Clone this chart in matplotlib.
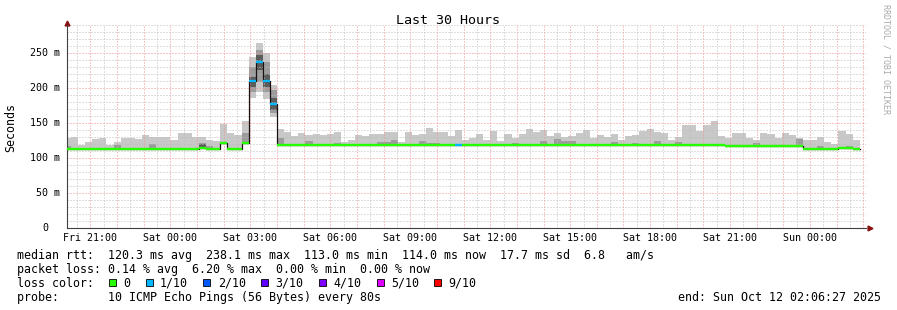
import numpy as np
import pandas as pd
import matplotlib
matplotlib.use("Agg")
import matplotlib.pyplot as plt
import matplotlib.dates as mdates
from matplotlib.patches import Rectangle
from matplotlib.ticker import MultipleLocator, FuncFormatter

plt.rcParams['font.family'] = ['DejaVu Sans Mono']
plt.rcParams['lines.scale_dashes'] = False

# ---- data: 16 minute bins (ms) ----
graph_end = pd.Timestamp("2025-10-12 02:06:27")
data_end = pd.Timestamp("2025-10-12 01:52:00")
bin_minutes = 16

median = [114.0, 114.0, 114.0, 114.0, 114.0, 113.2, 113.2, 113.2, 113.2, 113.2,
          113.2, 114.0, 113.0, 113.0, 114.0, 114.0, 114.0, 114.0, 114.0, 114.4,
          113.6, 113.6, 121.4, 113.6, 113.0, 121.8, 210.4, 238.1, 210.0, 177.0,
          118.5, 118.5, 118.5, 118.5, 118.5, 118.5, 118.5, 118.5, 118.5, 118.5,
          118.5, 118.5, 118.5, 118.5, 118.5, 118.5, 118.5, 118.5, 118.5, 118.5,
          118.5, 118.5, 118.5, 118.5, 118.5, 119.6, 118.5, 118.5, 118.5, 118.5,
          118.5, 118.5, 118.5, 118.5, 118.5, 118.5, 118.5, 118.5, 118.5, 118.5,
          118.5, 118.5, 118.5, 118.5, 118.5, 118.5, 118.5, 118.5, 118.5, 118.5,
          118.5, 118.5, 118.5, 118.5, 118.5, 118.5, 118.5, 118.5, 118.5, 118.5,
          118.5, 118.5, 118.5, 118.2, 118.2, 118.2, 118.2, 118.2, 118.2, 118.2,
          118.2, 118.2, 118.2, 118.2, 114.0, 113.2, 113.2, 114.0, 114.0, 115.0,
          115.0, 114.0]

# lost pings out of 10 (loss colour bucket)
loss_bucket = [0] * 26 + [1, 1, 1, 1] + [0] * 25 + [1] + [0] * 56

smoke_hi = [128.5, 131.0, 119.5, 123.0, 127.0, 128.5, 119.5, 123.0, 128.5, 128.5,
            127.0, 134.0, 130.0, 131.0, 130.0, 126.0, 135.5, 136.0, 130.0, 130.0,
            126.5, 125.0, 149.0, 135.5, 133.0, 153.0, 245.2, 265.2, 251.0, 204.8,
            141.9, 137.6, 131.9, 136.1, 133.3, 134.8, 133.3, 134.8, 137.6, 123.3,
            126.2, 133.3, 131.9, 134.8, 134.8, 137.6, 137.6, 123.3, 137.6, 133.3,
            134.7, 143.3, 137.6, 137.6, 131.9, 140.5, 126.2, 129.0, 134.7, 126.2,
            139.0, 124.8, 134.7, 129.0, 134.7, 141.9, 137.6, 140.5, 131.9, 136.2,
            130.9, 132.4, 136.6, 140.4, 128.5, 133.3, 130.4, 134.7, 126.2, 131.9,
            133.3, 139.5, 141.9, 137.1, 136.6, 126.2, 130.4, 147.6, 147.6, 139.5,
            148.0, 153.5, 132.0, 129.5, 136.6, 136.6, 129.5, 126.2, 136.6, 134.7,
            129.5, 136.6, 133.3, 129.5, 126.2, 126.2, 130.4, 122.8, 120.5, 139.5,
            134.7, 126.2]

smoke_lo = [113.0, 113.0, 113.0, 113.0, 113.0, 112.4, 112.4, 112.4, 112.4, 112.4,
            112.4, 113.0, 112.2, 112.2, 113.0, 113.0, 113.0, 113.0, 113.0, 113.4,
            112.8, 112.8, 120.4, 112.8, 112.2, 120.8, 186.7, 195.2, 185.0, 159.0,
            117.6, 117.6, 117.6, 117.6, 117.6, 117.6, 117.6, 117.6, 117.6, 117.6,
            117.6, 117.6, 117.6, 117.6, 117.6, 117.6, 117.6, 117.6, 117.6, 117.6,
            117.6, 117.6, 117.6, 117.6, 117.6, 118.6, 117.6, 117.6, 117.6, 117.6,
            117.6, 117.6, 117.6, 117.6, 117.6, 117.6, 117.6, 117.6, 117.6, 117.6,
            117.6, 117.6, 117.6, 117.6, 117.6, 117.6, 117.6, 117.6, 117.6, 117.6,
            117.6, 117.6, 117.6, 117.6, 117.6, 117.6, 117.6, 117.6, 117.6, 117.6,
            117.6, 117.6, 117.6, 117.3, 117.3, 117.3, 117.3, 117.3, 117.3, 117.3,
            117.3, 117.3, 117.3, 117.3, 113.0, 112.4, 112.4, 113.0, 113.0, 114.0,
            114.0, 113.0]

# darker smoke (inner pings) where it shows
dark_bins = [0, 7, 12, 19, 20, 25, 26, 27, 28, 29, 30, 34, 38, 44, 45, 46, 50, 51,
             52, 63, 67, 69, 70, 71, 77, 80, 83, 86, 97, 103, 106, 110]
dark_lo = [113.0, 112.5, 112.5, 113.5, 113.0, 121.0, 195.2, 209.5, 195.0, 164.7,
           117.8, 117.8, 117.8, 117.8, 117.8, 117.8, 117.8, 117.8, 117.8, 117.8,
           117.8, 117.8, 117.8, 117.8, 117.8, 117.8, 117.8, 117.8, 117.5, 117.5,
           112.5, 114.0]
dark_hi = [117.0, 118.5, 120.0, 122.5, 118.0, 135.5, 230.9, 254.8, 237.0, 197.6,
           128.6, 124.5, 122.0, 123.5, 123.5, 125.5, 124.5, 121.5, 121.5, 121.5,
           124.5, 127.0, 124.5, 124.5, 123.8, 122.0, 124.7, 123.8, 121.4, 128.0,
           117.5, 118.0]

core_bins = [19, 26, 27, 28, 29]
core_lo = [116.5, 202.4, 226.2, 202.4, 169.0]
core_hi = [120.0, 216.7, 247.6, 220.0, 185.6]

loss_colors = ['#26ff00', '#00b8ff', '#0059ff', '#5e00ff', '#7e00ff', '#dd00ff', '#ff0000']
loss_labels = ['0', '1/10', '2/10', '3/10', '4/10', '5/10', '9/10']
y_ticks = [0, 50, 100, 150, 200, 250]

legend_rows = [
    "median rtt:  120.3 ms avg  238.1 ms max  113.0 ms min  114.0 ms now  17.7 ms sd  6.8   am/s",
    "packet loss: 0.14 % avg  6.20 % max  0.00 % min  0.00 % now",
    "loss color:",
    "probe:       10 ICMP Echo Pings (56 Bytes) every 80s",
]
end_text = "end: Sun Oct 12 02:06:27 2025"

# ---- figure ----
W, H = 897, 310
def fx(x): return x / W
def fy(y): return 1 - y / H

fig = plt.figure(figsize=(W / 100, H / 100), dpi=100)
fig.patch.set_facecolor('white')
ax = fig.add_axes([fx(66.7), fy(228.3), 799.5 / W, 203 / H])

edges = pd.date_range(end=data_end, periods=len(median) + 1, freq=f"{bin_minutes}min")
xe = mdates.date2num(edges.to_pydatetime())
x0 = xe[:-1]
bw = xe[1] - xe[0]
med = np.array(median)

ax.bar(x0, np.array(smoke_hi) - np.array(smoke_lo), bottom=smoke_lo, width=bw,
       align='edge', color='#c8c8c8', linewidth=0, antialiased=False, zorder=1)
ax.bar(x0[dark_bins], np.array(dark_hi) - np.array(dark_lo), bottom=dark_lo, width=bw,
       align='edge', color='#9c9c9c', linewidth=0, antialiased=False, zorder=1.1)
ax.bar(x0[core_bins], np.array(core_hi) - np.array(core_lo), bottom=core_lo, width=bw,
       align='edge', color='#5c5c5c', linewidth=0, antialiased=False, zorder=1.2)

ax.step(xe, np.append(med, med[-1]), where='post', color='#1a1010', lw=0.9, zorder=2)
ax.hlines(med, xe[:-1], xe[1:], colors=[loss_colors[b] for b in loss_bucket],
          lw=1.7, capstyle='butt', zorder=3)

t_start = graph_end - pd.Timedelta(hours=30)
ax.set_xlim(mdates.date2num(t_start.to_pydatetime()), mdates.date2num(graph_end.to_pydatetime()))
ax.set_ylim(0, 290)

ax.xaxis.set_major_locator(mdates.HourLocator())
ax.xaxis.set_minor_locator(mdates.MinuteLocator(byminute=[30]))
ax.xaxis.set_major_formatter(FuncFormatter(
    lambda v, pos: mdates.num2date(v).strftime('%a %H:%M') if mdates.num2date(v).hour % 3 == 0 else ''))
ax.yaxis.set_major_locator(MultipleLocator(50))
ax.yaxis.set_minor_locator(MultipleLocator(10))
ax.tick_params(axis='both', which='both', length=0)
ax.tick_params(axis='x', labelsize=7.2, pad=3.3)
ax.tick_params(axis='y', labelleft=False)

ax.set_axisbelow('line')
ax.grid(which='major', color='#f09090', linestyle=(0, (0.72, 1.44)), linewidth=0.72)
ax.grid(which='minor', color='#bebebe', linestyle=(0, (0.72, 1.44)), linewidth=0.72)

for s in ['top', 'right']:
    ax.spines[s].set_visible(False)
for s in ['left', 'bottom']:
    ax.spines[s].set_color('#404040')
    ax.spines[s].set_linewidth(0.8)
ax.set_facecolor('white')

# axis arrows
ax.plot([0], [1.012], marker='^', ms=3.5, color='#8b1010', transform=ax.transAxes, clip_on=False)
ax.plot([1.005], [0], marker='>', ms=3.5, color='#8b1010', transform=ax.transAxes, clip_on=False)

# y tick labels
char_pt = 7.2 * 0.602
for v in y_ticks:
    txt = f"{v} m" if v else "0"
    off = -4.8 if v else -4.8 - 2 * char_pt
    ax.annotate(txt, xy=(0, v), xycoords=('axes fraction', 'data'), xytext=(off, 0),
                textcoords='offset points', ha='right', va='center', fontsize=7.2)

fig.text(fx(448), fy(24), "Last 30 Hours", ha='center', va='baseline', fontsize=9.6)
fig.text(fx(11), fy(127), "Seconds", rotation=90, ha='center', va='center', fontsize=8.4)
fig.text(fx(886), fy(4), "RRDTOOL / TOBI OETIKER", rotation=270, ha='center', va='top',
         fontsize=6, color='#aaaaaa')

# legend
baselines = [259, 273, 287, 301]
for row, yb in zip(legend_rows, baselines):
    fig.text(fx(16.5), fy(yb), row, ha='left', va='baseline', fontsize=8.4)
fig.text(fx(880.5), fy(baselines[3]), end_text, ha='right', va='baseline', fontsize=8.4)

cw = 7.03
sx = 109
for col, lab in zip(loss_colors, loss_labels):
    fig.add_artist(Rectangle((fx(sx), fy(286.3)), 7 / W, 7 / H, transform=fig.transFigure,
                             facecolor=col, edgecolor='black', linewidth=0.6))
    fig.text(fx(sx + 14.3), fy(baselines[2]), lab, ha='left', va='baseline', fontsize=8.4)
    sx += 14.3 + cw * len(lab) + 15.3

fig.savefig("out.png", dpi=100, facecolor='white')
